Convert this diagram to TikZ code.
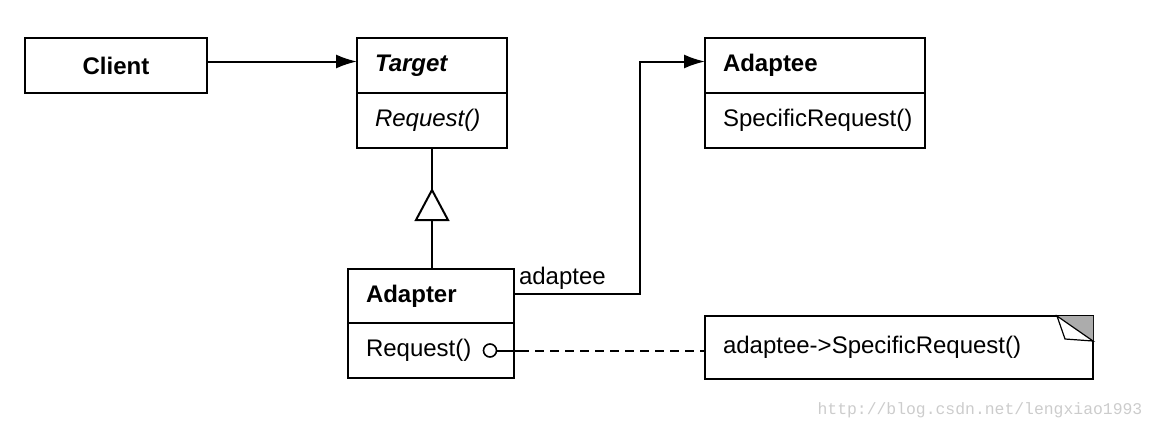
\documentclass[tikz,border=0pt]{standalone}
\usepackage{fontspec}
\setmainfont{Liberation Sans}
\newfontfamily\wmfont{Liberation Mono}
\usepackage{tikz}
\usetikzlibrary{%
  arrows.meta,%
  positioning,% wg. " of "
  calc%
}

\begin{document}
\begin{tikzpicture}[
  x=0.5pt, y=-0.5pt,
  font=\fontsize{12}{14}\selectfont, >={Latex[length=10.5pt,width=7pt]}, line width=1pt,
  classbox/.style={draw, outer sep=0pt, inner xsep=9pt, minimum height=27.5pt,
    text width=#1, align=left, anchor=north west},
  opbox/.style={draw, outer sep=0pt, inner xsep=9pt, minimum height=27.5pt,
    text width=#1, align=left}
]

\useasboundingbox (0,0) rectangle (1157,430);

% classes
\node[classbox=73pt, align=center] (client) at (25,38) {\textbf{Client}};

\node[classbox=57pt] (target) at (357,38) {\textbf{\textit{Target}}};
\node[opbox=57pt, below=0pt of target] (targetop) {\textit{Request()}};

\node[classbox=92pt] (adaptee) at (705,38) {\textbf{Adaptee}};
\node[opbox=92pt, below=0pt of adaptee] (adapteeop) {SpecificRequest()};

\node[classbox=65pt, minimum height=27pt] (adapter) at (348,269) {\textbf{Adapter}};
\node[opbox=65pt, below=0pt of adapter] (adapterop) {Request()};

% note
\node[classbox=176pt, minimum height=31.5pt, text depth=3pt] (note) at (705,316)
  {adaptee->SpecificRequest()};
\fill[gray!65] (note.north east) -- ++(-36,0) -- ++(36,25) -- cycle;
\draw[fill=white, line width=0.6pt] ($(note.north east)+(-36,0)$) -- ++(8,23) -- ++(28,2) -- cycle;

% client uses target
\draw[->] ([yshift=2pt]client.east) -- ([yshift=2pt]target.west);

% inheritance
\draw (targetop.south) -- (targetop.south |- adapter.north);
\draw[fill=white] ($(targetop.south)+(0,42)$) -- ++(-16,30) -- ++(32,0) -- cycle;

% adapter holds adaptee
\coordinate (bend) at (640,0);
\draw[->] ([yshift=1pt]adapter.east) -- ([yshift=1pt]adapter.east -| bend)
  |- ([yshift=2pt]adaptee.west);
\node[above right, inner sep=2pt] (role) at ([yshift=1pt]adapter.east) {adaptee};

% implementation note
\node[circle, draw, line width=0.8pt, minimum size=6.5pt, inner sep=0pt] (hook)
  at ([xshift=-12pt]adapterop.east) {};
\coordinate (tick) at ([xshift=3pt]adapterop.east);
\draw (hook) -- (tick);
\draw[dashed, dash pattern=on 4.5pt off 3pt] (tick) -- (note.west |- tick);

% watermark
\node[anchor=east, text=gray!40, font=\wmfont\fontsize{8.2}{10}\selectfont] (mark)
  at (1150,410) {http://blog.csdn.net/lengxiao1993};

\end{tikzpicture}
\end{document}
